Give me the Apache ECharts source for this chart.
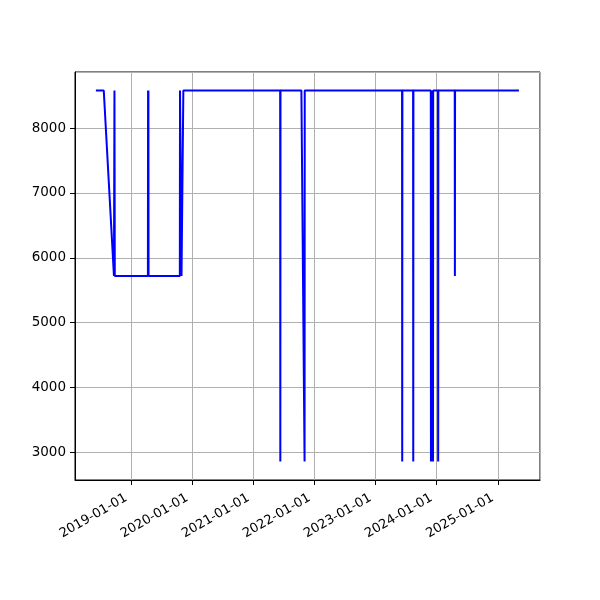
<!DOCTYPE html>
<html>
<head>
<meta charset="utf-8">
<script src="https://cdn.jsdelivr.net/npm/echarts@6/dist/echarts.min.js"></script>
<style>html,body{margin:0;padding:0;background:#fff;}#c{width:600px;height:600px;}</style>
</head>
<body>
<div id="c"></div>
<script>
var dates = [
  '2018-06-03','2018-07-20','2018-09-19','2018-09-22','2018-09-24',
  '2019-04-10','2019-04-11','2019-04-12','2019-04-13','2019-04-14',
  '2019-10-18','2019-10-19','2019-10-27','2019-10-28','2019-11-07','2019-11-08',
  '2021-06-09','2021-06-10','2021-06-11',
  '2021-10-14','2021-11-02','2021-11-03',
  '2023-06-08','2023-06-09','2023-06-10',
  '2023-08-13','2023-08-14','2023-08-15',
  '2023-11-27','2023-11-28','2023-11-29',
  '2023-12-03','2023-12-04','2023-12-05',
  '2023-12-09','2023-12-10','2023-12-11',
  '2024-01-09','2024-01-10','2024-01-11',
  '2024-04-18','2024-04-19','2024-04-20',
  '2025-05-07'
];
var values = [
  8580,8580,5720,8580,5720,
  5720,8580,5720,8580,5720,
  5720,8580,8580,5720,5720,8580,
  8580,2860,8580,
  8580,2860,8580,
  8580,2860,8580,
  8580,2860,8580,
  8580,2860,8580,
  8580,2860,8580,
  8580,2860,8580,
  8580,2860,8580,
  8580,5720,8580,
  8580
];
var xMin = '2018-01-29', xMax = '2025-09-10';
var yMin = 2574, yMax = 8866;

var data = dates.map(function(d, i){ return [d, values[i]]; });
var font = 'DejaVu Sans';
var chart = echarts.init(document.getElementById('c'), null, {renderer: 'canvas'});
chart.setOption({
  animation: false,
  backgroundColor: '#fff',
  grid: {left: 75, right: 60, top: 72, bottom: 120, show: true, borderColor: '#000', borderWidth: 1, containLabel: false},
  xAxis: {
    type: 'time',
    min: xMin, max: xMax,
    splitNumber: 7,
    minInterval: 365 * 24 * 3600 * 1000,
    axisLine: {show: true, onZero: false, lineStyle: {color: '#000', width: 1}},
    axisTick: {show: true, length: 5, lineStyle: {color: '#000', width: 1}},
    axisLabel: {
      rotate: 30, margin: 14, padding: [0, 6, 0, 0], color: '#000', fontFamily: font, fontSize: 13,
      showMinLabel: false, showMaxLabel: false,
      formatter: function(v){ var d = new Date(v); var m = d.getMonth()+1, dd = d.getDate(); return d.getFullYear() + '-' + (m<10?'0':'') + m + '-' + (dd<10?'0':'') + dd; }
    },
    splitLine: {show: true, lineStyle: {color: '#b0b0b0', width: 1}}
  },
  yAxis: {
    type: 'value',
    min: yMin, max: yMax,
    splitNumber: 6,
    axisLine: {show: true, lineStyle: {color: '#000', width: 1}},
    axisTick: {show: true, length: 5, lineStyle: {color: '#000', width: 1}},
    axisLabel: {margin: 9, color: '#000', fontFamily: font, fontSize: 13.5, showMinLabel: false, showMaxLabel: false,
      formatter: function(v){ return String(v); }},
    splitLine: {show: true, lineStyle: {color: '#b0b0b0', width: 1}}
  },
  series: [{
    type: 'line',
    data: data,
    showSymbol: false,
    sampling: null,
    lineStyle: {color: '#0000ff', width: 2},
    itemStyle: {color: '#0000ff'}
  }]
});
</script>
</body>
</html>
